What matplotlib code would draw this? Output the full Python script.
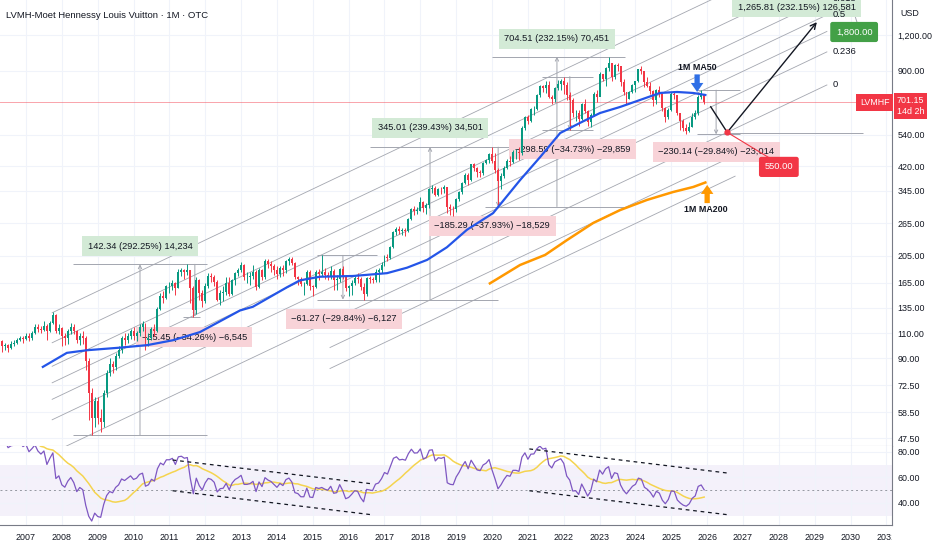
import numpy as np
import pandas as pd
import matplotlib
matplotlib.use("Agg")
import matplotlib.pyplot as plt
from matplotlib.ticker import NullLocator, FixedLocator, FuncFormatter
from matplotlib.transforms import Bbox, TransformedBbox, blended_transform_factory

plt.rcParams['font.family'] = ['Liberation Sans', 'DejaVu Sans']

# monthly candles, Apr 2006 .. Dec 2025 (USD)
start_year, start_month = 2006, 4
first_open = 99
close = [103, 99, 100, 98, 101, 102, 104, 106, 105,
         108, 106, 110, 116, 114, 113, 117, 112, 119, 127, 112, 115,
         108, 106, 112, 116, 112, 104, 108, 106, 88, 68, 56, 64,
         56, 54, 68, 80, 86, 84, 92, 96, 106, 104, 108, 112,
         108, 110, 116, 118, 104, 106, 114, 112, 134, 148, 146, 160,
         160, 164, 158, 180, 182, 180, 182, 158, 132, 168, 152, 142,
         161, 174, 172, 166, 144, 152, 153, 165, 151, 168, 178, 183,
         190, 172, 172, 174, 179, 159, 182, 172, 197, 192, 189, 183,
         177, 186, 182, 196, 200, 193, 172, 170, 163, 163, 179, 160,
         159, 179, 177, 179, 176, 174, 181, 169, 170, 184, 174, 158,
         160, 165, 171, 170, 159, 151, 171, 170, 169, 180, 182, 190,
         203, 201, 220, 247, 253, 249, 251, 250, 275, 298, 293, 294,
         315, 301, 308, 348, 351, 333, 349, 348, 354, 302, 298, 297,
         322, 340, 367, 392, 375, 426, 413, 400, 398, 429, 440, 464,
         436, 408, 371, 389, 415, 437, 434, 468, 468, 465, 571, 623,
         600, 662, 665, 744, 799, 787, 803, 732, 716, 785, 808, 827,
         806, 739, 715, 640, 642, 614, 693, 650, 598, 634, 749, 728,
         875, 842, 921, 956, 856, 941, 933, 823, 759, 718, 760, 806,
         829, 910, 900, 820, 798, 765, 712, 770, 750, 668, 622, 660,
         745, 740, 640, 600, 570, 556, 575, 620, 640, 730, 745, 701.15]
high = [106, 104, 102, 101, 103, 104, 106, 108, 108,
        110, 110, 112, 118, 118, 117, 121, 118, 121, 130, 128, 118,
        116, 110, 114, 119, 118, 113, 110, 112, 108, 90, 71, 66,
        66, 60, 70, 82, 90, 88, 94, 99, 108, 110, 110, 114,
        116, 112, 118, 121, 119, 110, 116, 118, 136, 152, 154, 162,
        166, 168, 166, 184, 186, 184, 191.04, 180, 160, 172, 170, 156,
        164, 178, 178, 176, 168, 155, 160, 172, 172, 170, 180, 186,
        195, 192, 180, 180, 190, 182, 186, 184, 200, 199, 196, 192,
        188, 188, 190, 198, 202, 202, 194, 174, 172, 166, 182, 182,
        162, 182, 184, 205.3, 185, 180, 188, 184, 176, 186, 188, 176,
        162, 168, 174, 178, 172, 165, 173, 174, 172, 184, 186, 194,
        206, 208, 222, 250, 258, 260, 256, 256, 278, 300, 305, 302,
        328, 318, 312, 352, 362, 358, 352, 355, 362, 356, 310, 306,
        325, 345, 370, 398, 398, 428, 430, 416, 408, 432, 446, 466,
        488.5, 466, 412, 398, 420, 446, 454, 476, 482, 488, 578, 628,
        632, 668, 680, 750, 805, 805, 830, 830, 742, 790, 835, 840,
        859.8, 820, 760, 726, 660, 660, 698, 716, 660, 640, 760, 770,
        890, 880, 925, 1008, 950, 950, 960, 938, 840, 762, 768, 810,
        830, 915, 935, 902, 860, 820, 770, 778, 800, 754, 676, 670,
        760, 760, 740, 640, 610, 590, 598, 640, 660, 740, 771.3, 748]
low = [99, 95, 96, 95, 97, 99, 101, 103, 102,
       104, 103, 104, 109, 111, 110, 112, 104, 111, 118, 110, 109,
       99, 100, 101, 109, 109, 102, 100, 101, 82, 55, 48.7, 52,
       53, 50, 52, 66, 78, 80, 82, 90, 94, 100, 102, 105,
       104, 103, 108, 112, 96, 99, 104, 108, 111, 132, 140, 145,
       152, 155, 150, 158, 174, 170, 175, 140, 125.6, 128, 144, 136,
       140, 158, 166, 160, 142, 138, 142, 150, 148, 150, 162, 174,
       180, 168, 164, 162, 170, 156, 158, 168, 170, 186, 180, 176,
       170, 172, 174, 178, 190, 190, 170, 162, 160, 150, 162, 156,
       148, 158, 168, 174, 170, 168, 170, 155, 156, 166, 170, 154,
       148, 150, 162, 164, 156, 144, 148, 164, 164, 166, 166, 178,
       188, 196, 200, 218, 242, 244, 242, 240, 248, 272, 284, 286,
       292, 290, 286, 300, 338, 330, 330, 336, 338, 288, 284, 281,
       290, 318, 336, 364, 360, 372, 405, 385, 385, 390, 426, 430,
       430, 398, 303.2, 350, 380, 410, 420, 430, 444, 440, 458, 560,
       590, 596, 630, 660, 728, 760, 752, 726, 690, 700, 770, 772,
       750, 710, 561.2, 620, 600, 580, 608, 640, 580, 576, 628, 700,
       760, 830, 800, 900, 830, 840, 900, 800, 740, 690, 720, 752,
       760, 820, 880, 790, 790, 750, 680, 690, 730, 650, 596, 612,
       655, 720, 630, 560, 555, 541.2, 550, 572, 610, 630, 720, 690]
# Jan 2005 .. Mar 2006 closes, only used to seed the RSI
warmup_close = [68, 70, 75, 75, 76, 76, 80, 81, 83, 83, 85, 89, 94, 95, 99]

# moving averages
ma50_t = [2007.47, 2008.14, 2008.70, 2009.62, 2010.38, 2011.10, 2011.85, 2012.41, 2012.97,
          2013.33, 2014.28, 2014.64, 2015.20, 2016.12, 2017.07, 2017.63, 2018.19, 2018.74,
          2019.30, 2020.03, 2020.78, 2021.34, 2021.90, 2022.45, 2023.01, 2023.57, 2024.13,
          2024.68, 2025.16, 2025.61, 2025.95]
ma50_v = [84, 94, 96, 98, 100, 104, 111, 121, 132, 136, 159, 168, 173, 174, 178, 186, 198, 219,
          252, 288, 375, 451, 547, 593, 642, 674, 713, 754, 760, 754, 742]
ma200_t = [2019.94, 2020.78, 2021.48, 2022.09, 2022.82, 2023.57, 2024.32, 2025.05, 2025.61, 2025.95]
ma200_v = [164, 190, 206, 232, 266, 295, 320, 341, 355, 368]

# fib channel (zero line and one line end points)
fib_t = [2007.73, 2029.34]
fib_zero = [42.2, 804]
fib_one = [129.6, 2470]
fib_levels = [0, 0.236, 0.382, 0.5, 0.618, 0.786, 1]
extra_levels = [-0.19, -0.34]
extra_t = [2015.48, 2026.78]

# price range tools
rng_t0 = [2008.31, 2011.38, 2015.12, 2016.60, 2019.80, 2020.00, 2021.40, 2025.72, 2026.56]
rng_t1 = [2012.05, 2011.85, 2016.79, 2020.17, 2021.20, 2023.70, 2022.82, 2026.92, 2030.35]
rng_tv = [2010.18, 2011.71, 2015.84, 2018.27, 2020.17, 2021.81, 2022.17, 2026.25, 2028.45]
rng_p0 = [48.7, 191.04, 205.3, 144.1, 488.5, 303.5, 859.8, 771.3, 545.2]
rng_p1 = [191.04, 125.6, 144.0, 489.1, 303.2, 1008, 561.2, 541.2, 1811]
rng_lab_t = [2010.18, 2011.69, 2015.87, 2018.27, 2020.0, 2021.81, 2022.25, 2026.25, 2028.5]
rng_lab_p = [221, 106.7, 123.3, 570, 260, 1162, 481, 470, 1500]
rng_text = ["142.34 (292.25%) 14,234", "\u221265.45 (\u221234.26%) \u22126,545",
            "\u221261.27 (\u221229.84%) \u22126,127", "345.01 (239.43%) 34,501",
            "\u2212185.29 (\u221237.93%) \u221218,529", "704.51 (232.15%) 70,451",
            "\u2212298.59 (\u221234.73%) \u221229,859", "\u2212230.14 (\u221229.84%) \u221223,014",
            "1,265.81 (232.15%) 126,581"]

# projection path
proj_t = [2026.10, 2026.56, 2029.06]
proj_p = [675, 550, 1330]

rsi_lines = [((2011.09, 73.7), (2016.69, 54.9)), ((2011.09, 49.6), (2016.69, 30.6)),
             ((2021.04, 82.4), (2026.62, 63.3)), ((2021.04, 49.6), (2026.62, 30.6))]

price_ticks = [47.5, 58.5, 72.5, 90, 110, 135, 165, 205, 265, 345, 420, 540, 900, 1200]
years = list(range(2007, 2032))
last_price = 701.15

UP, DOWN = '#089981', '#f23645'
GRID = '#f0f3fa'
TXT = '#131722'
LINE = '#a3a6af'
FS = 6.4

n = len(close)
t = np.array([start_year + (start_month - 1 + i) / 12 for i in range(n)])
opn = [first_open] + close[:-1]

fig = plt.figure(figsize=(9.32, 5.5), dpi=100)
ax = fig.add_axes([0, 104 / 550, 892 / 932, 446 / 550])
ax2 = fig.add_axes([0, 25 / 550, 892 / 932, 79 / 550], sharex=ax)

ax.set_yscale('log')
ax.set_ylim(44.57, 1588)
ax.set_xlim(2006.275, 2031.156)

# candles
for i in range(n):
    c = UP if close[i] >= opn[i] else DOWN
    ax.vlines(t[i], low[i], high[i], color=c, lw=0.7, zorder=3)
    lo, hi = min(opn[i], close[i]), max(opn[i], close[i])
    ax.bar(t[i], max(hi - lo, hi * 0.004), bottom=lo, width=0.055, color=c, lw=0, zorder=3)

ax.plot(ma50_t, ma50_v, color='#2455e8', lw=1.6, zorder=4)
ax.plot(ma200_t, ma200_v, color='#ff9800', lw=1.8, zorder=4)

# fib channel
for lv in fib_levels:
    p = [z * (o / z) ** lv for z, o in zip(fib_zero, fib_one)]
    ax.plot(fib_t, p, color=LINE, lw=0.6, zorder=1)
    ax.annotate(f'{lv:g}', xy=(fib_t[1], p[1]), xytext=(4, 0), textcoords='offset points',
                ha='left', va='center', fontsize=FS + 0.4, color=TXT, annotation_clip=False,
                clip_on=True, zorder=5)
for lv in extra_levels:
    z = [fib_zero[0] * np.exp((np.log(fib_zero[1]) - np.log(fib_zero[0])) * (tt - fib_t[0]) / (fib_t[1] - fib_t[0]))
         for tt in extra_t]
    o = [fib_one[0] * np.exp((np.log(fib_one[1]) - np.log(fib_one[0])) * (tt - fib_t[0]) / (fib_t[1] - fib_t[0]))
         for tt in extra_t]
    ax.plot(extra_t, [a * (b / a) ** lv for a, b in zip(z, o)], color=LINE, lw=0.6, zorder=1)

# price range tools
for k in range(len(rng_text)):
    ax.hlines([rng_p0[k], rng_p1[k]], rng_t0[k], rng_t1[k], color=LINE, lw=0.7, zorder=1)
    ax.annotate('', xy=(rng_tv[k], rng_p1[k]), xytext=(rng_tv[k], rng_p0[k]),
                arrowprops=dict(arrowstyle='->', color=LINE, lw=0.7, mutation_scale=6,
                                shrinkA=0, shrinkB=0), zorder=1)
    fc = '#d3ead6' if rng_p1[k] > rng_p0[k] else '#f8d3d8'
    ax.text(rng_lab_t[k], rng_lab_p[k], rng_text[k], ha='center', va='center', fontsize=FS + 0.3,
            color=TXT, zorder=2, clip_on=True,
            bbox=dict(boxstyle='square,pad=0.6', fc=fc, ec='none'))

# projection
ax.plot(proj_t[:2], proj_p[:2], color=TXT, lw=1, zorder=5)
ax.annotate('', xy=(proj_t[2], proj_p[2]), xytext=(proj_t[1], proj_p[1]),
            arrowprops=dict(arrowstyle='->', color=TXT, lw=1, mutation_scale=10,
                            shrinkA=0, shrinkB=0), zorder=5)
ax.plot([proj_t[1], 2027.75], [proj_p[1], 447], color=DOWN, lw=0.8, zorder=5)
ax.plot(proj_t[1], proj_p[1], 'o', color=DOWN, ms=3.5, zorder=6)
ax.text(2028.0, 417, '550.00', ha='center', va='center', fontsize=FS + 0.3, color='white', zorder=6,
        bbox=dict(boxstyle='round,pad=0.6,rounding_size=0.25', fc=DOWN, ec='none'))
ax.plot([2029.98, 2030.18], [1588, 1329], color=LINE, lw=0.7, zorder=1)
ax.text(2030.1, 1229, '1,800.00', ha='center', va='center', fontsize=FS + 0.3, color='white', zorder=6,
        bbox=dict(boxstyle='round,pad=0.6,rounding_size=0.25', fc='#43a047', ec='none'))

# MA callouts
arrow = 'simple,head_width=0.9,head_length=0.65,tail_width=0.38'
ax.text(2025.72, 928, '1M MA50', ha='center', va='center', fontsize=FS, fontweight='bold', color=TXT, zorder=6)
ax.annotate('', xy=(2025.72, 760), xytext=(2025.72, 875),
            arrowprops=dict(arrowstyle=arrow, color='#2f6fe6', lw=0, mutation_scale=10,
                            shrinkA=0, shrinkB=0), zorder=6)
ax.annotate('', xy=(2026.0, 361), xytext=(2026.0, 312),
            arrowprops=dict(arrowstyle=arrow, color='#ff9800', lw=0, mutation_scale=10,
                            shrinkA=0, shrinkB=0), zorder=6)
ax.text(2025.97, 296, '1M MA200', ha='center', va='center', fontsize=FS, fontweight='bold', color=TXT, zorder=6)

# last price line and tags
ax.axhline(last_price, color=DOWN, lw=0.7, alpha=0.45, zorder=1)
bt = blended_transform_factory(ax.transAxes, ax.transData)
ax.text(0.997, last_price, 'LVMHF', transform=bt, ha='right', va='center', fontsize=FS,
        color='white', zorder=7, bbox=dict(boxstyle='square,pad=0.45', fc=DOWN, ec='none'))
ax.annotate('701.15\n14d 2h', xy=(1.0, last_price), xycoords=bt, xytext=(3.5, 4.5),
            textcoords='offset points', ha='left', va='top', fontsize=FS, color='white',
            linespacing=1.35, annotation_clip=False, zorder=7,
            bbox=dict(boxstyle='square,pad=0.35', fc=DOWN, ec='none'))

# axes styling
for a in (ax, ax2):
    a.set_facecolor('white')
    a.yaxis.tick_right()
    a.spines['top'].set_visible(False)
    a.spines['left'].set_visible(False)
    a.spines['right'].set_color('#787b86')
    a.spines['right'].set_linewidth(0.8)
    a.tick_params(axis='both', length=0, labelsize=FS, labelcolor=TXT, pad=4)
    a.xaxis.set_major_locator(FixedLocator(years))
    a.grid(True, color=GRID, lw=0.8, zorder=0)
    a.set_axisbelow(True)
ax.spines['bottom'].set_color('#b2b5be')
ax.spines['bottom'].set_linewidth(0.8)
ax2.spines['bottom'].set_color('#787b86')
ax.yaxis.set_minor_locator(NullLocator())
ax.yaxis.set_major_locator(FixedLocator(price_ticks))
ax.yaxis.set_major_formatter(FuncFormatter(lambda v, p: f'{v:,.2f}'))
plt.setp(ax.get_xticklabels(), visible=False)

# RSI pane
full = pd.Series(warmup_close + close, dtype=float)
d = full.diff()
gain = d.clip(lower=0).ewm(alpha=1 / 14, adjust=False).mean()
loss = (-d.clip(upper=0)).ewm(alpha=1 / 14, adjust=False).mean()
rsi = 100 - 100 / (1 + gain / loss)
rsi_ma = rsi.rolling(14, min_periods=1).mean()
rsi = rsi.values[-n:]
rsi_ma = rsi_ma.values[-n:]

ax2.set_ylim(22.7, 84.7)
ax2.axhspan(30, 70, color='#7e57c2', alpha=0.08, lw=0, zorder=0)
ax2.axhline(50, color='#9598a1', lw=0.7, ls=(0, (2, 3)), zorder=1)
ax2.plot(t, rsi, color='#7e57c2', lw=0.9, zorder=3)
ax2.plot(t, rsi_ma, color='#f5d44f', lw=1.1, zorder=2)
for (a0, a1) in rsi_lines:
    ax2.plot([a0[0], a1[0]], [a0[1], a1[1]], color=TXT, lw=0.9, ls=(0, (3, 3)), zorder=4)
ax2.yaxis.set_major_locator(FixedLocator([40, 60, 80]))
ax2.yaxis.set_major_formatter(FuncFormatter(lambda v, p: f'{v:.2f}'))
ax2.set_xticklabels([str(y) for y in years])
ax2.tick_params(axis='x', pad=6)

clip = TransformedBbox(Bbox([[0, 0], [892 / 932, 1]]), fig.transFigure)
for lab in ax2.get_xticklabels():
    lab.set_clip_box(clip)
    lab.set_clip_on(True)

fig.text(6 / 932, 1 - 15 / 550, 'LVMH-Moet Hennessy Louis Vuitton \u00b7 1M \u00b7 OTC',
         ha='left', va='center', fontsize=FS + 0.4, color=TXT)
fig.text(900 / 932, 1 - 14 / 550, 'USD', ha='left', va='center', fontsize=FS, color=TXT)

fig.savefig('out.png', dpi=100, facecolor='white')
